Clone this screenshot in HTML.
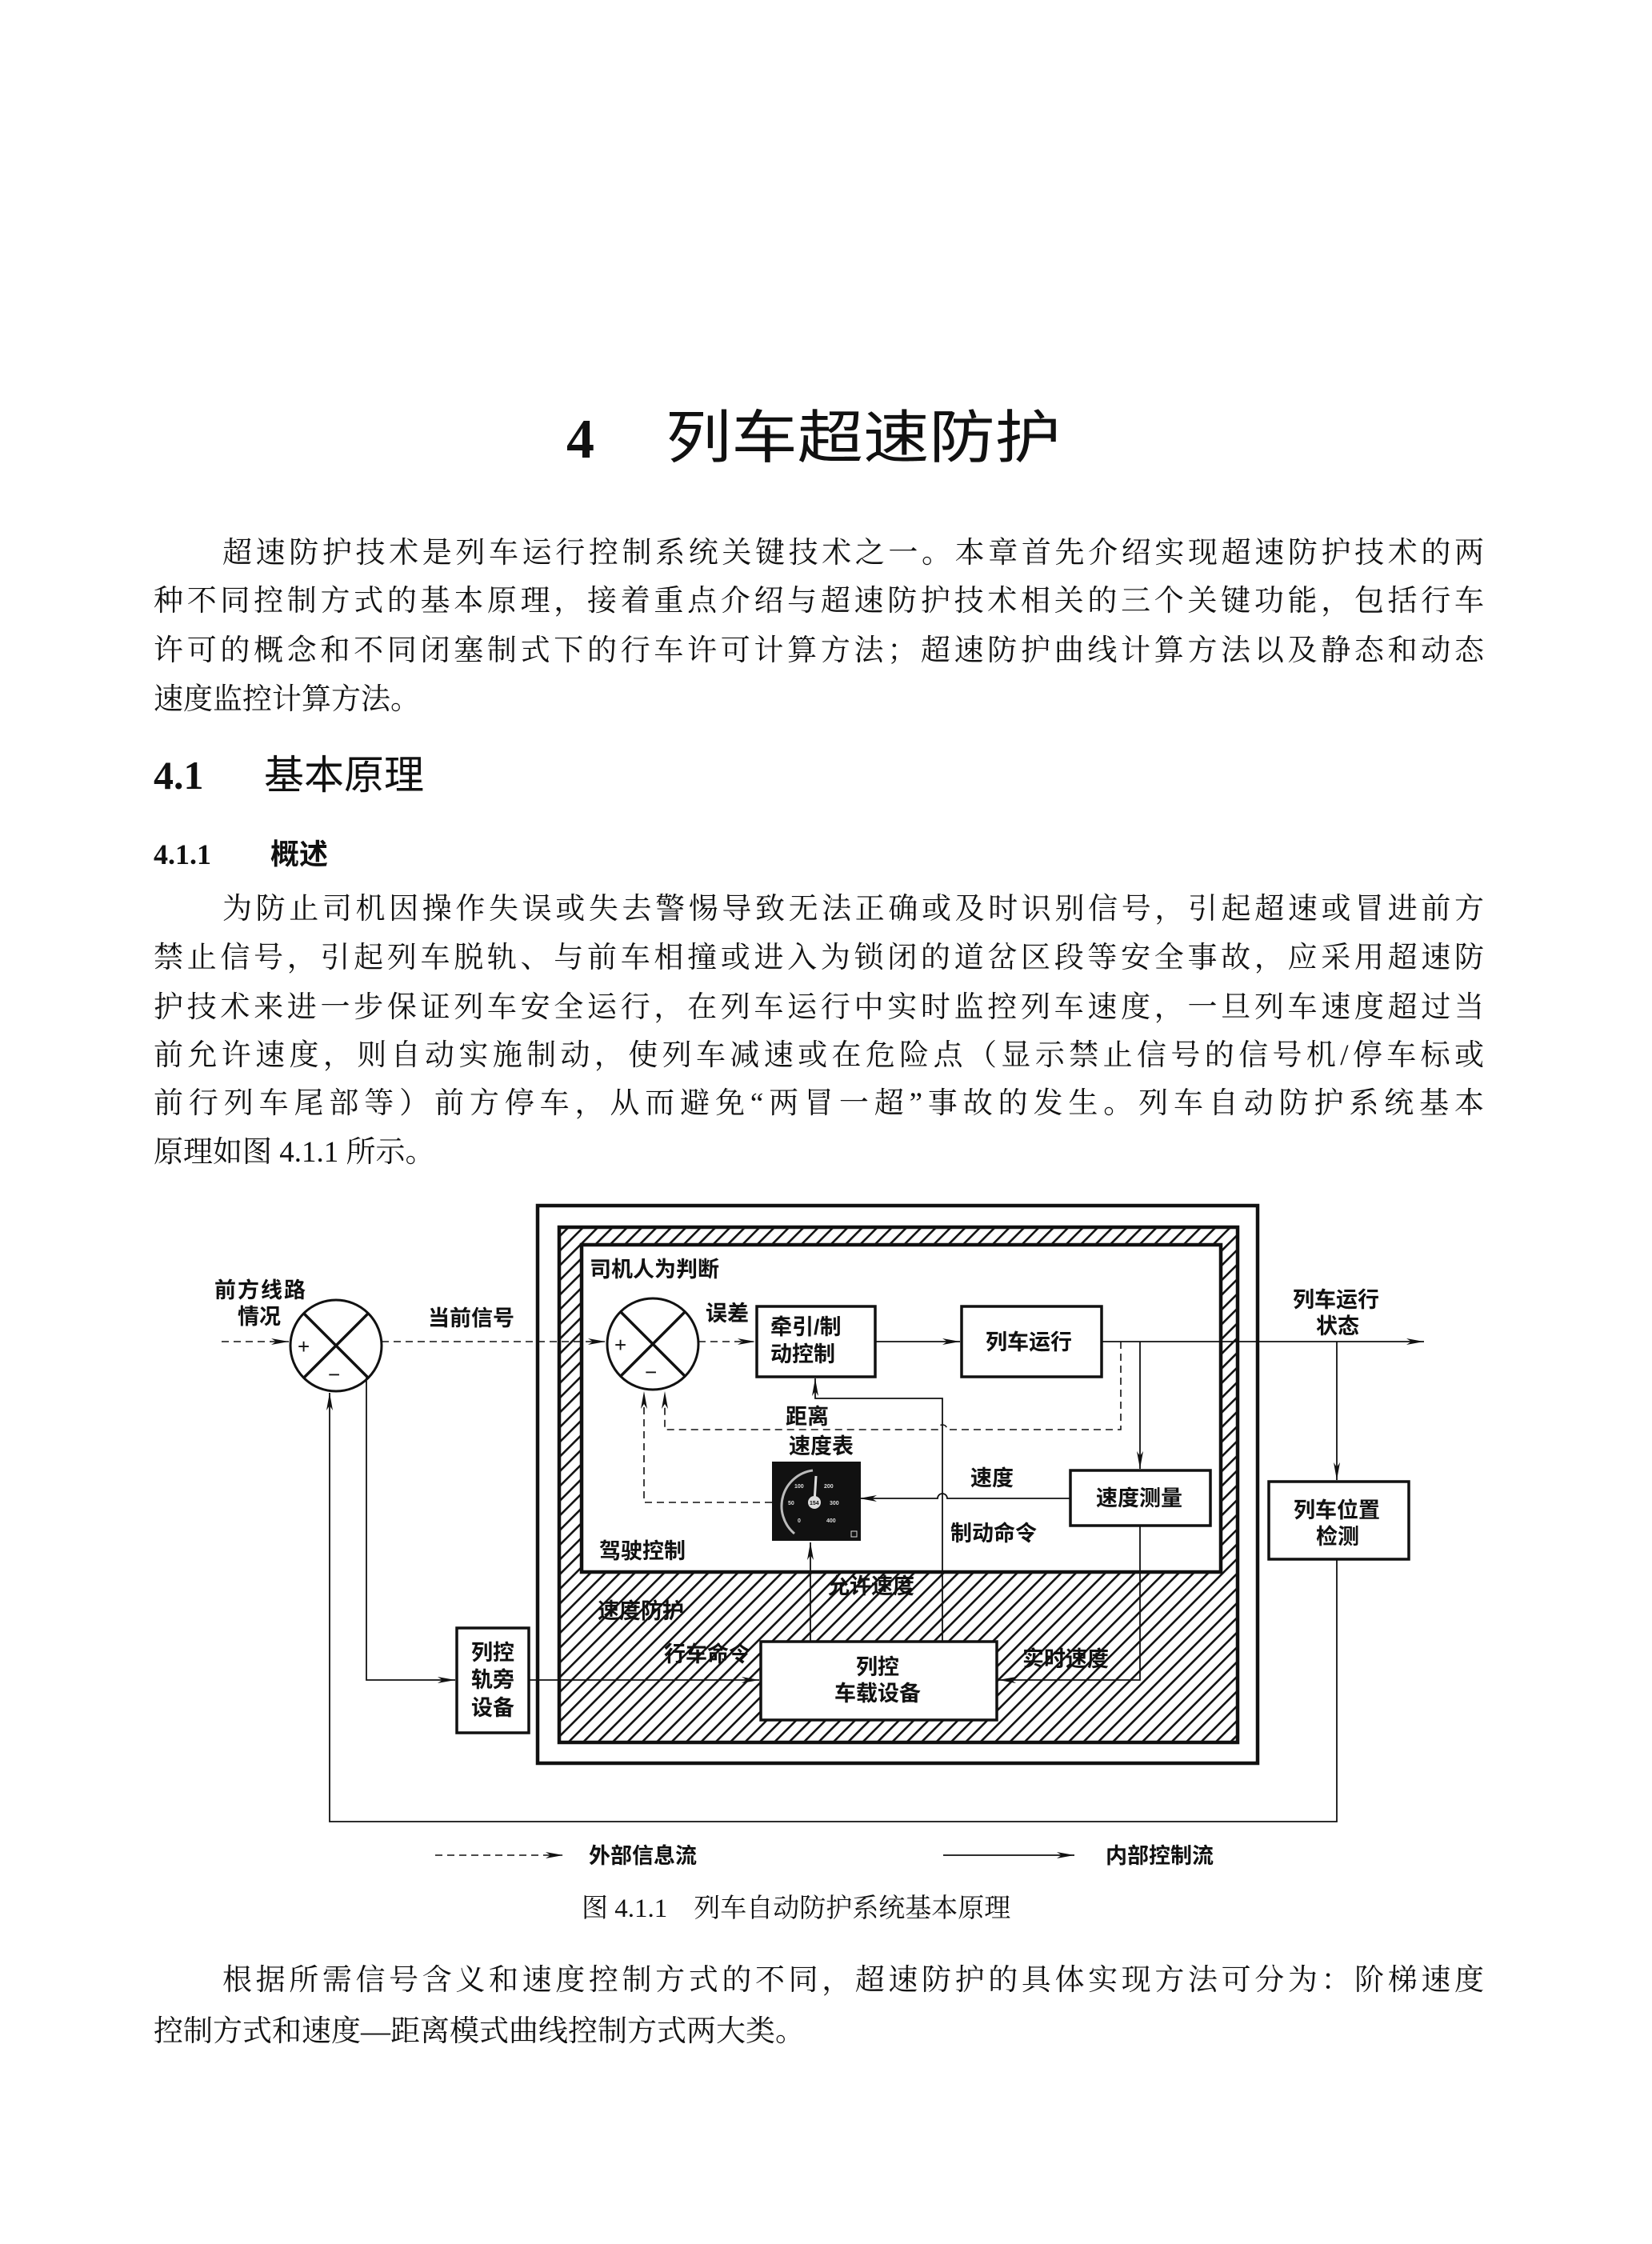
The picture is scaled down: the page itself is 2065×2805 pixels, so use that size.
<!DOCTYPE html>
<html><head><meta charset="utf-8"><style>
html,body{margin:0;padding:0;background:#fff;}
svg{display:block;}
.p{font-family:"Liberation Serif","Noto Serif CJK SC",serif;font-size:37px;fill:#111;}
.d{font-family:"Liberation Sans","Noto Sans CJK SC",sans-serif;font-size:27px;font-weight:bold;fill:#111;}
</style></head><body>
<svg width="2065" height="2805" viewBox="0 0 2065 2805" xmlns="http://www.w3.org/2000/svg">
<defs>
<pattern id="h" width="13" height="13" patternUnits="userSpaceOnUse" patternTransform="rotate(45)">
<rect width="13" height="13" fill="#fff"/><rect x="0" y="0" width="2.6" height="13" fill="#111"/>
</pattern>
<marker id="a" markerWidth="24" markerHeight="10" refX="22" refY="5" orient="auto" markerUnits="userSpaceOnUse">
<path d="M0,1 L22,5 L0,9 L6,5 Z" fill="#111"/>
</marker>
</defs>

<!-- Title -->
<text x="708" y="572" style="font-family:'Liberation Serif',serif;font-weight:bold;font-size:70px;fill:#111">4</text>
<text x="832" y="572" textLength="494" lengthAdjust="spacingAndGlyphs" style="font-family:'Liberation Sans','Noto Sans CJK SC',sans-serif;font-size:72px;fill:#111">列车超速防护</text>

<!-- Para 1 -->
<text class="p" x="278" y="703" textLength="1577" lengthAdjust="spacing">超速防护技术是列车运行控制系统关键技术之一。本章首先介绍实现超速防护技术的两</text>
<text class="p" x="192" y="763" textLength="1663" lengthAdjust="spacing">种不同控制方式的基本原理，接着重点介绍与超速防护技术相关的三个关键功能，包括行车</text>
<text class="p" x="192" y="825" textLength="1663" lengthAdjust="spacing">许可的概念和不同闭塞制式下的行车许可计算方法；超速防护曲线计算方法以及静态和动态</text>
<text class="p" x="192" y="886">速度监控计算方法。</text>

<!-- Heading 4.1 -->
<text x="192" y="986" style="font-family:'Liberation Serif',serif;font-weight:bold;font-size:50px;fill:#111">4.1</text>
<text x="330" y="986" style="font-family:'Liberation Sans','Noto Sans CJK SC',sans-serif;font-size:50px;fill:#111">基本原理</text>
<text x="192" y="1080" style="font-family:'Liberation Serif',serif;font-weight:bold;font-size:36px;fill:#111">4.1.1</text>
<text x="338" y="1080" style="font-family:'Liberation Sans','Noto Sans CJK SC',sans-serif;font-weight:bold;font-size:36px;fill:#111">概述</text>

<!-- Para 2 -->
<text class="p" x="278" y="1148" textLength="1577" lengthAdjust="spacing">为防止司机因操作失误或失去警惕导致无法正确或及时识别信号，引起超速或冒进前方</text>
<text class="p" x="192" y="1209" textLength="1663" lengthAdjust="spacing">禁止信号，引起列车脱轨、与前车相撞或进入为锁闭的道岔区段等安全事故，应采用超速防</text>
<text class="p" x="192" y="1271" textLength="1663" lengthAdjust="spacing">护技术来进一步保证列车安全运行，在列车运行中实时监控列车速度，一旦列车速度超过当</text>
<text class="p" x="192" y="1331" textLength="1663" lengthAdjust="spacing">前允许速度，则自动实施制动，使列车减速或在危险点（显示禁止信号的信号机/停车标或</text>
<text class="p" x="192" y="1391" textLength="1663" lengthAdjust="spacing">前行列车尾部等）前方停车，从而避免“两冒一超”事故的发生。列车自动防护系统基本</text>
<text class="p" x="192" y="1452">原理如图 4.1.1 所示。</text>

<!-- Diagram boxes -->
<rect x="672" y="1507" width="900" height="697" fill="#fff" stroke="#111" stroke-width="4.5"/>
<rect x="699" y="1534" width="848" height="644" fill="url(#h)" stroke="#111" stroke-width="4.5"/>
<rect x="727" y="1556" width="799" height="409" fill="#fff" stroke="#111" stroke-width="4.5"/>
<rect x="951" y="2052" width="295" height="98" fill="#fff" stroke="#111" stroke-width="3.5"/>

<!-- Circles -->
<g stroke="#111" stroke-width="3" fill="#fff">
<circle cx="420" cy="1682" r="57"/>
<circle cx="816" cy="1680" r="57"/>
</g>
<g stroke="#111" stroke-width="3.5">
<line x1="380" y1="1642" x2="460" y2="1722"/><line x1="460" y1="1642" x2="380" y2="1722"/>
<line x1="776" y1="1640" x2="856" y2="1720"/><line x1="856" y1="1640" x2="776" y2="1720"/>
</g>
<g style="font-family:'Liberation Sans',sans-serif;font-size:26px;fill:#111">
<text x="372" y="1692">+</text><text x="410" y="1727">−</text>
<text x="768" y="1690">+</text><text x="806" y="1724">−</text>
</g>

<!-- Boxes -->
<g stroke="#111" stroke-width="3.5" fill="#fff">
<rect x="946" y="1633" width="148" height="88"/>
<rect x="1202" y="1633" width="175" height="88"/>
<rect x="1338" y="1838" width="175" height="69"/>
<rect x="1586" y="1852" width="175" height="97"/>
<rect x="571" y="2035" width="90" height="131"/>
</g>

<!-- Speedometer -->
<rect x="965" y="1827" width="111" height="99" fill="#111"/>
<path d="M1016,1838 A45,45 0 0 0 993,1917" stroke="#bbb" stroke-width="3" fill="none"/>
<line x1="1018" y1="1878" x2="1020" y2="1845" stroke="#ddd" stroke-width="3"/>
<circle cx="1018" cy="1878" r="8" fill="#ddd"/>
<g style="font-family:'Liberation Sans',sans-serif;font-size:7px;fill:#ddd;font-weight:bold">
<text x="993" y="1860">100</text><text x="1030" y="1860">200</text><text x="985" y="1881">50</text><text x="1037" y="1881">300</text><text x="997" y="1903">0</text><text x="1033" y="1903">400</text><text x="1012" y="1881" style="fill:#111">154</text>
</g>
<rect x="1064" y="1914" width="7" height="7" fill="none" stroke="#ddd" stroke-width="1"/>

<!-- Solid connectors -->
<g stroke="#111" stroke-width="1.8" fill="none">
<line x1="1094" y1="1677" x2="1200" y2="1677" marker-end="url(#a)"/>
<line x1="1377" y1="1677" x2="1780" y2="1677" marker-end="url(#a)"/>
<line x1="1425" y1="1677" x2="1425" y2="1836" marker-end="url(#a)"/>
<line x1="1671" y1="1677" x2="1671" y2="1850" marker-end="url(#a)"/>
<polyline points="1671,1949 1671,2277 412,2277 412,1741" marker-end="url(#a)"/>
<path d="M1338,1873 L1184,1873 A6,6 0 0 0 1172,1873 L1074,1873" marker-end="url(#a)"/>
<polyline points="1178,2052 1178,1748 1019,1748 1019,1723" marker-end="url(#a)"/>
<line x1="1013" y1="2052" x2="1013" y2="1928" marker-end="url(#a)"/>
<polyline points="1425,1907 1425,2100 1248,2100" marker-end="url(#a)"/>
<polyline points="458,1722 458,2100 569,2100" marker-end="url(#a)"/>
<line x1="661" y1="2100" x2="949" y2="2100" marker-end="url(#a)"/>
<line x1="1179" y1="2319" x2="1343" y2="2319" marker-end="url(#a)"/>
</g>
<!-- Dashed connectors -->
<g stroke="#111" stroke-width="1.6" fill="none" stroke-dasharray="9,6">
<line x1="277" y1="1677" x2="361" y2="1677" marker-end="url(#a)"/>
<line x1="477" y1="1677" x2="757" y2="1677" marker-end="url(#a)"/>
<line x1="873" y1="1677" x2="944" y2="1677" marker-end="url(#a)"/>
<path d="M1401,1677 L1401,1787 L1184,1787 A6,6 0 0 0 1172,1787 L831,1787 L831,1739" marker-end="url(#a)"/>
<polyline points="965,1878 805,1878 805,1739" marker-end="url(#a)"/>
<line x1="544" y1="2319" x2="704" y2="2319" marker-end="url(#a)"/>
</g>

<!-- Diagram labels -->
<text class="d" x="268" y="1622" textLength="114">前方线路</text>
<text class="d" x="297" y="1655">情况</text>
<text class="d" x="535" y="1657">当前信号</text>
<text class="d" x="737" y="1596">司机人为判断</text>
<text class="d" x="882" y="1651">误差</text>
<text class="d" x="963" y="1668">牵引/制</text>
<text class="d" x="963" y="1702">动控制</text>
<text class="d" x="1232" y="1687">列车运行</text>
<text class="d" x="1616" y="1634">列车运行</text>
<text class="d" x="1645" y="1667">状态</text>
<text class="d" x="982" y="1780">距离</text>
<text class="d" x="986" y="1817">速度表</text>
<text class="d" x="1213" y="1857">速度</text>
<text class="d" x="1370" y="1882">速度测量</text>
<text class="d" x="1188" y="1926">制动命令</text>
<text class="d" x="1617" y="1897">列车位置</text>
<text class="d" x="1645" y="1930">检测</text>
<text class="d" x="749" y="1948">驾驶控制</text>
<text class="d" x="1035" y="1992">允许速度</text>
<text class="d" x="747" y="2023">速度防护</text>
<text class="d" x="830" y="2077">行车命令</text>
<text class="d" x="1278" y="2083">实时速度</text>
<text class="d" x="1070" y="2093">列控</text>
<text class="d" x="1043" y="2126">车载设备</text>
<text class="d" x="589" y="2075">列控</text>
<text class="d" x="589" y="2109">轨旁</text>
<text class="d" x="589" y="2144">设备</text>
<text class="d" x="736" y="2329">外部信息流</text>
<text class="d" x="1382" y="2329">内部控制流</text>

<!-- Caption -->
<text class="p" x="727" y="2396" style="font-size:33px">图 4.1.1　列车自动防护系统基本原理</text>

<!-- Para 3 -->
<text class="p" x="278" y="2487" textLength="1577" lengthAdjust="spacing">根据所需信号含义和速度控制方式的不同，超速防护的具体实现方法可分为：阶梯速度</text>
<text class="p" x="192" y="2551">控制方式和速度—距离模式曲线控制方式两大类。</text>
</svg>
</body></html>
